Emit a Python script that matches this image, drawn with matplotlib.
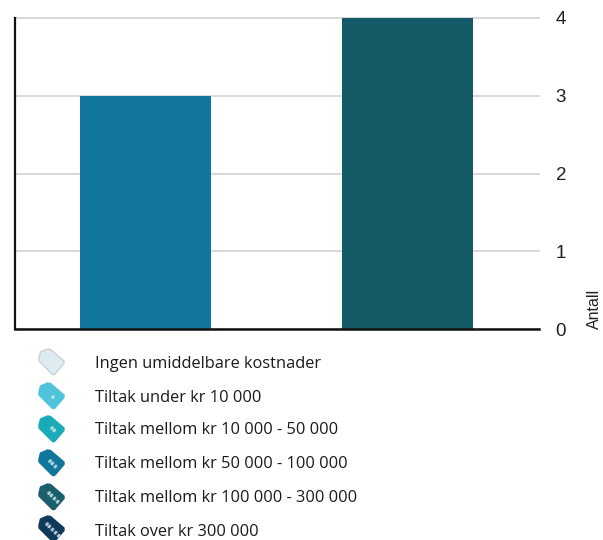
import matplotlib
matplotlib.use('Agg')
import matplotlib.pyplot as plt
from matplotlib.patches import Polygon
import numpy as np

W, H = 603, 540

categories = ['A', 'B']
values = [3, 4]
bar_colors = ['#11769c', '#135a66']
y_ticks = [0, 1, 2, 3, 4]

legend_labels = ['Ingen umiddelbare kostnader', 'Tiltak under kr 10 000',
                 'Tiltak mellom kr 10 000 - 50 000', 'Tiltak mellom kr 50 000 - 100 000',
                 'Tiltak mellom kr 100 000 - 300 000', 'Tiltak over kr 300 000']
legend_colors = ['#dcecf2', '#4fc3da', '#1aabb8', '#11769c', '#1b5f6b', '#0f3a5a']
legend_signs = ['', '$', '$$', '$$$', '$$$$', '$$$$$']
legend_y = [362, 396, 429, 463, 497, 531]

fig = plt.figure(figsize=(W / 100, H / 100), dpi=100)
ax = fig.add_axes([15 / W, 1 - 329 / H, 524 / W, (329 - 18) / H])

x = np.arange(len(categories))
ax.bar(x, values, width=0.5, color=bar_colors, zorder=3)
ax.set_xlim(-0.497, 1.503)
ax.set_ylim(0, 4)
ax.set_xticks([])
ax.set_yticks(y_ticks)
ax.yaxis.tick_right()
ax.tick_params(axis='y', length=0, pad=12, labelsize=13.5, labelcolor='#222222',
               labelfontfamily='Liberation Sans')
ax.grid(axis='y', color='#d6d6d6', lw=1.3, zorder=1, clip_on=False)
ax.spines['top'].set_visible(False)
ax.spines['right'].set_visible(False)
ax.spines['left'].set_linewidth(1.6)
ax.spines['left'].set_color('#111111')
ax.spines['bottom'].set_linewidth(1.8)
ax.spines['bottom'].set_color('#111111')
ax.spines['left'].set_zorder(5)
ax.spines['bottom'].set_zorder(5)

fig.text(594 / W, 1 - 329 / H, 'Antall', rotation=90, ha='center', va='bottom',
         fontsize=11.5, family='Liberation Sans', color='#222222')

# price tag icons, in pixels around the centre of the tag
tag = np.array([[-12.5, -4], [-11, -10], [-4, -13], [-1, -12.5], [12.5, -1], [12.5, 1.5],
                [3, 12.5], [1, 12.5], [-12.5, -1]])
for y, col, signs, lab in zip(legend_y, legend_colors, legend_signs, legend_labels):
    cx = 51.5
    cy = min(y, 529)
    pts = tag + [cx, cy]
    edge = '#c8d2d6' if signs == '' else col
    pts_fig = [(px / W, 1 - py / H) for px, py in pts]
    fig.add_artist(Polygon(pts_fig, closed=True, transform=fig.transFigure, facecolor=col,
                           edgecolor=edge, lw=1, joinstyle='round'))
    if signs:
        fig.text((cx + 0.5) / W, 1 - (cy + 0.5) / H, signs, rotation=-45, ha='center', va='center',
                 rotation_mode='anchor', fontsize=4.5, color='#dff2f6', family='DejaVu Sans',
                 parse_math=False, fontweight='bold')
    fig.text(95 / W, 1 - (y + 1.5) / H, lab, ha='left', va='center', fontsize=11.8,
             family='Open Sans', color='#1a1a1a', parse_math=False)

fig.savefig('out.png', dpi=100)
